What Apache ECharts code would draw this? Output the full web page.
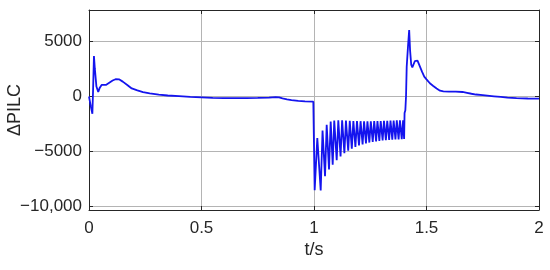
<!DOCTYPE html>
<html>
<head>
<meta charset="utf-8">
<script src="https://cdn.jsdelivr.net/npm/echarts@6/dist/echarts.min.js"></script>
<style>
  html, body { margin: 0; padding: 0; background: #fff; }
  #chart { width: 550px; height: 270px; }
</style>
</head>
<body>
<div id="chart"></div>
<script>
// 时间 (s)
const tValues = [
  0, 0.008, 0.015, 0.018, 0.022, 0.026, 0.033, 0.041, 0.048, 0.056, 0.064, 0.075,
  0.09, 0.105, 0.118, 0.126, 0.135, 0.15, 0.17, 0.19, 0.215, 0.24, 0.27, 0.31,
  0.35, 0.4, 0.45, 0.5, 0.55, 0.6, 0.65, 0.7, 0.75, 0.8, 0.83, 0.845,
  0.86, 0.88, 0.9, 0.93, 0.96, 0.997, 1.0,
  // 1.0 ~ 1.4 振荡段
  1.003, 1.0147, 1.0298, 1.038, 1.049, 1.0564, 1.0667, 1.0742, 1.0831, 1.09,
  1.1009, 1.108, 1.118, 1.125, 1.135, 1.142, 1.152, 1.159, 1.168, 1.175,
  1.184, 1.191, 1.2, 1.207, 1.216, 1.2225, 1.231, 1.2375, 1.246, 1.2525,
  1.261, 1.2675, 1.276, 1.282, 1.2905, 1.2965, 1.305, 1.311, 1.3195, 1.3255,
  1.334, 1.34, 1.348, 1.354, 1.362, 1.368, 1.376, 1.382, 1.39, 1.396,
  1.4005,
  // 恢复段
  1.4025, 1.406, 1.409, 1.412, 1.418, 1.423, 1.427, 1.432, 1.437, 1.441,
  1.448, 1.455, 1.46, 1.47, 1.48, 1.49, 1.5, 1.515, 1.53, 1.545,
  1.56, 1.575, 1.6, 1.63, 1.66, 1.68, 1.7, 1.72, 1.75, 1.78,
  1.8, 1.83, 1.86, 1.9, 1.95, 2.0
]
// ΔPILC
const pilcValues = [
  0, -900, -1570, 500, 3670, 2500, 900, 420, 800, 1050, 1140, 1050,
  1250, 1450, 1570, 1600, 1550, 1350, 1050, 730, 560, 400, 290, 170,
  90, 30, -40, -80, -120, -140, -150, -140, -130, -100, -60, -80,
  -170, -260, -320, -390, -440, -470, -480,
  -8500, -3770, -8530, -3080, -7240, -2570, -6630, -2270, -6180, -2180,
  -5790, -2150, -5450, -2150, -5150, -2180, -4920, -2200, -4730, -2220,
  -4580, -2230, -4450, -2240, -4340, -2250, -4250, -2250, -4180, -2250,
  -4120, -2240, -4070, -2230, -4030, -2220, -3990, -2210, -3960, -2200,
  -3940, -2190, -3920, -2180, -3900, -2170, -3890, -2160, -3880, -2150,
  -3860,
  -1500, -1250, 0, 2700, 4600, 6020, 4200, 2900, 2650, 2800,
  3200, 3310, 3250, 2750, 2250, 1800, 1550, 1200, 960, 730,
  530, 470, 450, 440, 410, 330, 250, 180, 120, 60,
  20, -40, -110, -150, -180, -200
]
const xTicks = [0, 0.5, 1, 1.5, 2]
const yTicks = [-10000, -5000, 0, 5000]

const fmtY = (v) => {
  if (!yTicks.includes(v)) return ''
  if (v === 0) return '0'
  const abs = Math.abs(v)
  const s = abs >= 10000 ? abs.toLocaleString('en-US') : String(abs)
  return (v < 0 ? '\u2212' : '') + s
}
const fmtX = (v) => (xTicks.includes(v) ? String(v) : '')

const axisColor = '#262626'
const gridColor = '#b4b4b4'
const font = 'Liberation Sans'

const baseX = {
  type: 'value',
  min: 0,
  max: 2,
  interval: 0.5,
  axisLine: { show: true, onZero: false, lineStyle: { color: axisColor, width: 1 } },
  axisTick: { show: true, inside: true, length: 4, lineStyle: { color: axisColor } },
  splitLine: { show: false }
}
const baseY = {
  type: 'value',
  min: -10300,
  max: 7850,
  splitNumber: 4,
  axisLine: { show: true, onZero: false, lineStyle: { color: axisColor, width: 1 } },
  axisTick: { show: true, inside: true, length: 4, lineStyle: { color: axisColor } },
  splitLine: { show: false }
}

const chart = echarts.init(document.getElementById('chart'), null, { renderer: 'canvas' })
chart.setOption({
  animation: false,
  backgroundColor: '#fff',
  grid: { left: 89, right: 11, top: 10, bottom: 60, containLabel: false, outerBoundsMode: 'none' },
  xAxis: [
    Object.assign({}, baseX, {
      position: 'bottom',
      name: 't/s',
      nameLocation: 'middle',
      nameGap: 31,
      nameMoveOverlap: false,
      nameTextStyle: { color: axisColor, fontSize: 18, fontFamily: font },
      axisLabel: { color: axisColor, fontSize: 17, fontFamily: font, margin: 10, formatter: fmtX },
      splitLine: { show: true, lineStyle: { color: gridColor, width: 1 } }
    }),
    Object.assign({}, baseX, { position: 'top', axisLabel: { show: false } })
  ],
  yAxis: [
    Object.assign({}, baseY, {
      position: 'left',
      name: 'ΔPILC',
      nameLocation: 'middle',
      nameGap: 65,
      nameMoveOverlap: false,
      nameTextStyle: { color: axisColor, fontSize: 18, fontFamily: font },
      axisLabel: { color: axisColor, fontSize: 17, fontFamily: font, margin: 7, formatter: fmtY },
      splitLine: { show: true, lineStyle: { color: gridColor, width: 1 } }
    }),
    Object.assign({}, baseY, { position: 'right', axisLabel: { show: false } })
  ],
  series: [
    {
      type: 'line',
      data: tValues.map((t, i) => [t, pilcValues[i]]),
      showSymbol: false,
      symbol: 'none',
      lineStyle: { color: '#1414ee', width: 1.8 },
      z: 3
    }
  ]
})
</script>
</body>
</html>
